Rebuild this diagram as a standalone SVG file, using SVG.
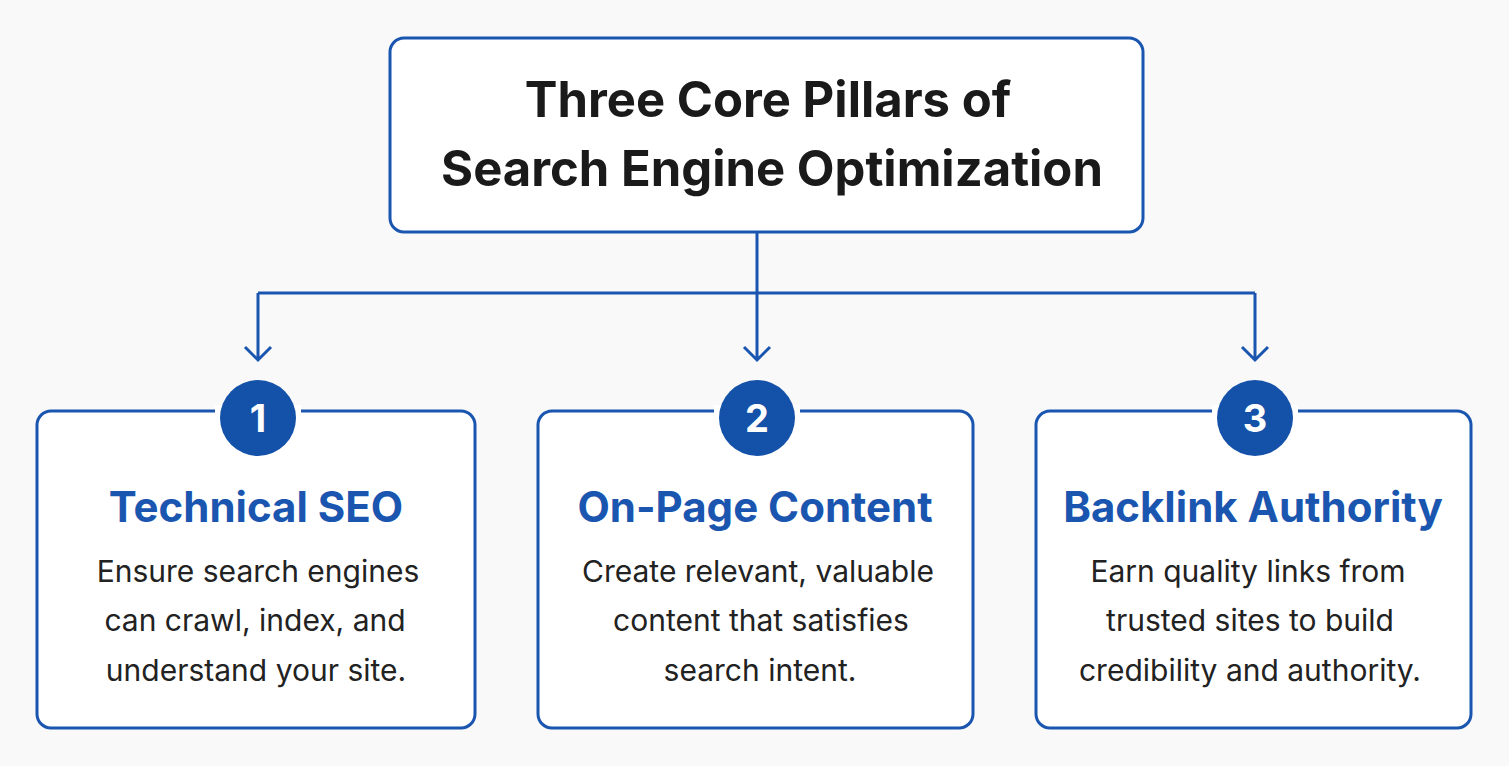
<svg xmlns="http://www.w3.org/2000/svg" width="1509" height="766" viewBox="0 0 1509 766">
<style>
.box{fill:#fff;stroke:#1a56b0;stroke-width:3}
.ln{fill:none;stroke:#1a56b0;stroke-width:3}
.t{font-family:Inter,"Liberation Sans",sans-serif;font-weight:700;font-size:49px;fill:#1a1a1a;text-anchor:middle}
.h{font-family:Inter,"Liberation Sans",sans-serif;font-weight:700;font-size:42px;fill:#1a56b0;text-anchor:middle}
.b{font-family:Inter,"Liberation Sans",sans-serif;font-size:30px;fill:#222;text-anchor:middle}
.n{font-family:Inter,"Liberation Sans",sans-serif;font-weight:700;font-size:38px;fill:#fff;text-anchor:middle}
</style>
<rect width="1509" height="766" fill="#f9f9f9"/>
<g id="title"><rect class="box" x="390" y="38" width="753" height="194" rx="14"/>
<text class="t" x="768" y="117">Three Core Pillars of</text>
<text class="t" x="772" y="186">Search Engine Optimization</text></g>
<g id="connectors">
<path class="ln" d="M757,232 V293 M258,293 H1255"/>
<path class="ln" d="M258,293 V360 M245,347 L258,360 L271,347"/>
<path class="ln" d="M757,293 V360 M744,347 L757,360 L770,347"/>
<path class="ln" d="M1255,293 V360 M1242,347 L1255,360 L1268,347"/>
</g>
<g id="p1"><rect class="box" x="37" y="411" width="438" height="317" rx="14"/>
<rect x="215" y="405" width="86" height="12" fill="#fff"/>
<circle cx="258" cy="418" r="38" fill="#1451a8"/><text class="n" x="258" y="432">1</text>
<text class="h" x="256" y="522">Technical SEO</text>
<text class="b" x="258" y="582">Ensure search engines</text>
<text class="b" x="255" y="631">can crawl, index, and</text>
<text class="b" x="256" y="681">understand your site.</text></g>
<g id="p2"><rect class="box" x="538" y="411" width="435" height="317" rx="14"/>
<rect x="714" y="405" width="86" height="12" fill="#fff"/>
<circle cx="757" cy="418" r="38" fill="#1451a8"/><text class="n" x="757" y="432">2</text>
<text class="h" x="755" y="522">On-Page Content</text>
<text class="b" x="758" y="582">Create relevant, valuable</text>
<text class="b" x="761" y="631">content that satisfies</text>
<text class="b" x="760" y="681">search intent.</text></g>
<g id="p3"><rect class="box" x="1036" y="411" width="435" height="317" rx="14"/>
<rect x="1212" y="405" width="86" height="12" fill="#fff"/>
<circle cx="1255" cy="418" r="38" fill="#1451a8"/><text class="n" x="1255" y="432">3</text>
<text class="h" x="1253" y="522">Backlink Authority</text>
<text class="b" x="1248" y="582">Earn quality links from</text>
<text class="b" x="1250" y="631">trusted sites to build</text>
<text class="b" x="1250" y="681">credibility and authority.</text></g>
</svg>
